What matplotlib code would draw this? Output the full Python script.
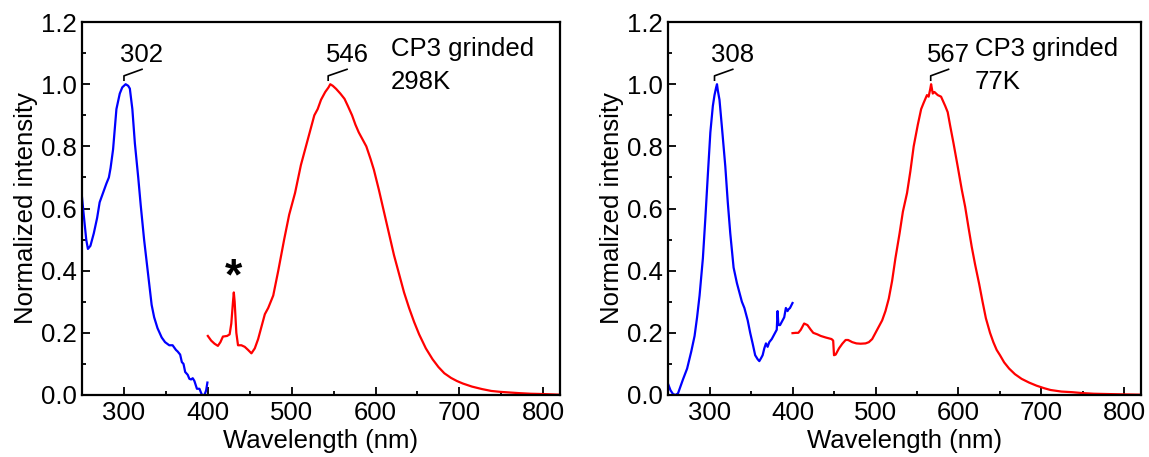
import matplotlib.pyplot as plt
from matplotlib.ticker import MultipleLocator

plt.rcParams['font.family'] = ['Liberation Sans', 'DejaVu Sans']

# ---------------- 数据 (298 K)
ex298_x = [248, 252, 255, 257, 260, 264, 268, 271, 275, 279, 282, 284, 287, 291, 295, 298, 302, 305, 307,
           310, 313, 317, 320, 324, 327, 330, 333, 336, 340, 345, 349, 354, 358, 362, 364, 367, 369, 371,
           373, 376, 378, 380, 382, 384, 387, 390, 393, 396, 398, 399.5]
ex298_y = [0.69, 0.58, 0.50, 0.47, 0.48, 0.52, 0.57, 0.62, 0.65, 0.68, 0.70, 0.73, 0.79, 0.92, 0.97, 0.99,
           1.00, 0.995, 0.986, 0.92, 0.81, 0.70, 0.61, 0.50, 0.43, 0.36, 0.29, 0.25, 0.215, 0.185, 0.17,
           0.16, 0.16, 0.145, 0.14, 0.13, 0.106, 0.10, 0.074, 0.065, 0.052, 0.05, 0.054, 0.045, 0.02,
           0.02, 0.0, 0.0, 0.015, 0.04]

em298_x = [400, 404, 408, 412, 415, 418, 423, 426, 428, 430, 431, 432, 434, 436, 440, 444, 448, 452, 456,
           460, 464, 468, 472, 478, 484, 491, 497, 504, 511, 518, 523, 527, 531, 535, 540, 544, 546, 549,
           553, 558, 563, 567, 572, 576, 580, 585, 589, 594, 598, 604, 610, 616, 622, 628, 634, 640, 646,
           652, 660, 668, 675, 682, 690, 697, 704, 715, 727, 738, 749, 760, 771, 785, 800, 810, 820]
em298_y = [0.19, 0.175, 0.165, 0.158, 0.17, 0.188, 0.19, 0.195, 0.23, 0.30, 0.33, 0.30, 0.20, 0.16, 0.16,
           0.155, 0.145, 0.134, 0.15, 0.18, 0.22, 0.26, 0.28, 0.32, 0.40, 0.50, 0.58, 0.65, 0.74, 0.81,
           0.86, 0.90, 0.92, 0.95, 0.975, 0.99, 1.0, 0.995, 0.985, 0.97, 0.953, 0.93, 0.90, 0.87, 0.845,
           0.82, 0.80, 0.76, 0.725, 0.66, 0.59, 0.52, 0.45, 0.39, 0.33, 0.28, 0.235, 0.195, 0.15, 0.115,
           0.09, 0.07, 0.055, 0.045, 0.037, 0.027, 0.019, 0.013, 0.010, 0.008, 0.006, 0.004, 0.003,
           0.002, 0.001]

# ---------------- 数据 (77 K)
ex77_x = [250, 253, 256, 259, 262, 264, 268, 273, 278, 282, 285, 288, 292, 295, 298, 301, 304, 306, 308,
          309, 310, 312, 315, 319, 322, 325, 329, 333, 336, 339, 342, 346, 349, 352, 355, 358, 360, 362,
          364, 366, 368, 370, 372, 375, 377, 379, 381, 382, 383, 385, 388, 390, 392, 394, 395, 397, 400]
ex77_y = [0.036, 0.015, 0.003, 0.0, 0.005, 0.02, 0.05, 0.085, 0.14, 0.19, 0.25, 0.32, 0.44, 0.57, 0.71,
          0.845, 0.93, 0.965, 0.99, 1.0, 0.98, 0.95, 0.86, 0.736, 0.62, 0.52, 0.41, 0.36, 0.33, 0.30, 0.28,
          0.24, 0.20, 0.165, 0.128, 0.115, 0.109, 0.118, 0.128, 0.15, 0.166, 0.155, 0.17, 0.18, 0.19,
          0.20, 0.21, 0.27, 0.225, 0.225, 0.24, 0.25, 0.28, 0.27, 0.275, 0.28, 0.296]

em77_x = [400, 404, 407, 410, 414, 418, 422, 425, 430, 434, 440, 447, 449, 450, 452, 456, 460, 464, 467,
          472, 477, 482, 488, 492, 496, 500, 503, 508, 512, 516, 520, 524, 529, 533, 538, 542, 546, 551,
          555, 558, 562, 564, 566, 567, 569, 571, 575, 579, 584, 587, 590, 594, 599, 604, 608, 612, 616,
          620, 625, 629, 633, 638, 642, 646, 650, 655, 661, 668, 676, 685, 694, 703, 711, 724, 737, 750,
          763, 780, 798, 820]
em77_y = [0.199, 0.2, 0.2, 0.21, 0.23, 0.225, 0.21, 0.2, 0.195, 0.19, 0.185, 0.18, 0.175, 0.128, 0.13,
          0.15, 0.165, 0.177, 0.177, 0.17, 0.166, 0.165, 0.166, 0.17, 0.18, 0.2, 0.215, 0.24, 0.27, 0.31,
          0.367, 0.44, 0.52, 0.59, 0.65, 0.72, 0.80, 0.87, 0.92, 0.94, 0.965, 0.96, 0.985, 1.0, 0.97,
          0.975, 0.965, 0.96, 0.93, 0.91, 0.866, 0.81, 0.736, 0.66, 0.606, 0.54, 0.476, 0.42, 0.356, 0.30,
          0.247, 0.20, 0.17, 0.145, 0.128, 0.105, 0.085, 0.067, 0.052, 0.04, 0.03, 0.022, 0.016, 0.011,
          0.009, 0.006, 0.004, 0.003, 0.002, 0.001]

# 标注: (峰位文字, 峰位x, 文字x)
peaks298 = [('302', 300, 321.5), ('546', 543.5, 566)]
peaks77 = [('308', 306, 328), ('567', 566.5, 588)]
label298 = ['CP3 grinded', '298K']
label77 = ['CP3 grinded', '77K']

fs = 18.5
fig = plt.figure(figsize=(11.49, 4.57), dpi=100)
ax1 = fig.add_axes([0.0714, 0.1357, 0.416, 0.816])
ax2 = fig.add_axes([0.5814, 0.1357, 0.4117, 0.816])


def style(ax):
    ax.set_xlim(250, 820)
    ax.set_ylim(0, 1.2)
    ax.xaxis.set_major_locator(MultipleLocator(100))
    ax.xaxis.set_minor_locator(MultipleLocator(50))
    ax.yaxis.set_major_locator(MultipleLocator(0.2))
    ax.yaxis.set_minor_locator(MultipleLocator(0.1))
    ax.yaxis.set_major_formatter(plt.FormatStrFormatter('%.1f'))
    ax.tick_params(which='both', direction='in', labelsize=fs, width=1.3, top=False, right=False)
    ax.tick_params(which='major', length=6, pad=4)
    ax.tick_params(which='minor', length=3)
    for s in ax.spines.values():
        s.set_linewidth(1.6)
    ax.set_xlabel('Wavelength (nm)', fontsize=fs, labelpad=3)
    ax.set_ylabel('Normalized intensity', fontsize=fs, labelpad=2)


def peak_marks(ax, peaks):
    for txt, px, tx in peaks:
        ax.plot([px, px, tx], [1.013, 1.027, 1.048], color='black', lw=1.2)
        ax.text(tx, 1.072, txt, ha='center', va='baseline', fontsize=fs)


def sample_label(ax, x, lines):
    ax.text(x, 1.091, lines[0], ha='left', va='baseline', fontsize=fs)
    ax.text(x, 0.984, lines[1], ha='left', va='baseline', fontsize=fs)


ax1.plot(ex298_x, ex298_y, color='#0000ff', lw=1.6)
ax1.plot(em298_x, em298_y, color='#ff0000', lw=1.6)
peak_marks(ax1, peaks298)
sample_label(ax1, 618.5, label298)
ax1.text(431, 0.31, '*', ha='center', va='bottom', fontsize=32, fontweight='bold')
style(ax1)

ax2.plot(ex77_x, ex77_y, color='#0000ff', lw=1.6)
ax2.plot(em77_x, em77_y, color='#ff0000', lw=1.6)
peak_marks(ax2, peaks77)
sample_label(ax2, 620, label77)
style(ax2)

fig.savefig('out.png', dpi=100)
